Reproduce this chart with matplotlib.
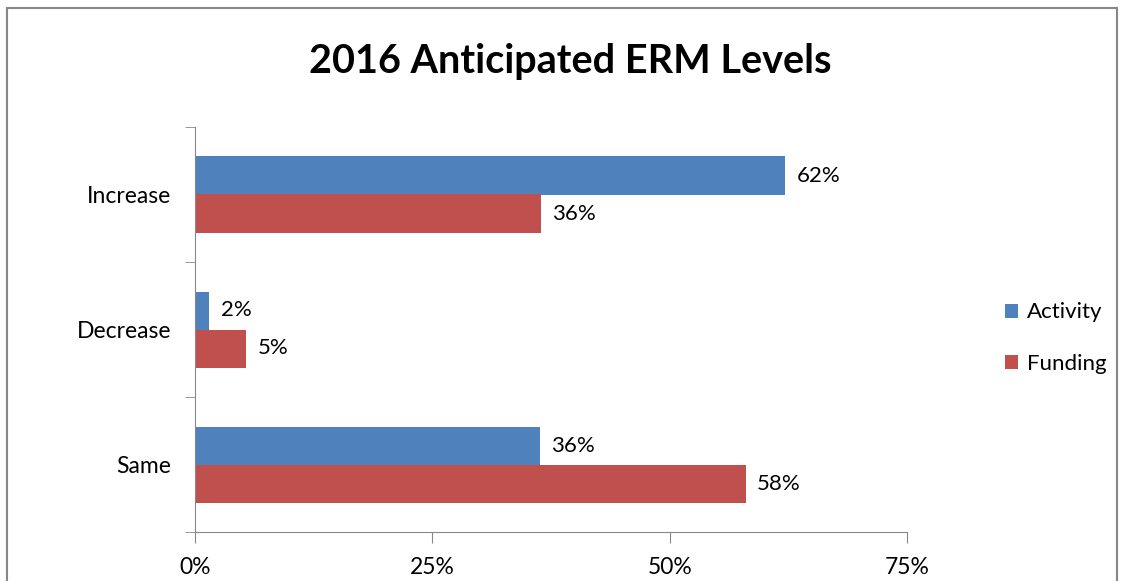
import matplotlib.pyplot as plt
from matplotlib.patches import Rectangle
import numpy as np

# data
categories = ["Increase", "Decrease", "Same"]
activity = [62.2, 1.5, 36.3]
funding = [36.4, 5.4, 58.0]
activity_labels = ["62%", "2%", "36%"]
funding_labels = ["36%", "5%", "58%"]
x_ticks = [0, 25, 50, 75]
x_tick_labels = ["0%", "25%", "50%", "75%"]

BLUE = "#4F81BD"
RED = "#C0504D"
GRAY = "#878787"

plt.rcParams["font.family"] = ["Lato", "DejaVu Sans"]

fig = plt.figure(figsize=(11.22, 5.81), dpi=100)
ax = fig.add_axes([195 / 1122, 1 - 532 / 581, 712 / 1122, 405 / 581])

# outer chart border
fig.patches.append(Rectangle((7 / 1122, -0.05), 1110 / 1122, 1.05 - 8 / 581,
                             transform=fig.transFigure, fill=False,
                             edgecolor=GRAY, linewidth=1.5))

y = np.arange(len(categories))[::-1].astype(float)
h = 38 / 135

ax.barh(y + h / 2, activity, height=h, color=BLUE, label="Activity")
ax.barh(y - h / 2, funding, height=h, color=RED, label="Funding")

for yi, v, lab in zip(y, activity, activity_labels):
    ax.text(v + 1.2, yi + h / 2, lab, va="center", ha="left", fontsize=16)
for yi, v, lab in zip(y, funding, funding_labels):
    ax.text(v + 1.2, yi - h / 2, lab, va="center", ha="left", fontsize=16)

ax.set_xlim(0, 75)
ax.set_ylim(-0.5, 2.5)
ax.set_xticks(x_ticks)
ax.set_xticklabels(x_tick_labels, fontsize=16.5)
ax.set_yticks(y)
ax.set_yticklabels(categories, fontsize=16.5)
ax.set_yticks([-0.5, 0.5, 1.5, 2.5], minor=True)

ax.tick_params(axis="y", which="major", length=0, pad=17)
ax.tick_params(axis="y", which="minor", length=7, color=GRAY)
ax.tick_params(axis="x", length=8, color=GRAY, pad=10)

for side in ["top", "right"]:
    ax.spines[side].set_visible(False)
for side in ["left", "bottom"]:
    ax.spines[side].set_color(GRAY)

fig.text(570 / 1122, 1 - 61 / 581, "2016 Anticipated ERM Levels",
         ha="center", va="center", fontsize=28.5, fontweight="bold")

fig.legend(loc="center left", bbox_to_anchor=(985 / 1122, 1 - 338 / 581),
           frameon=False, fontsize=16, handlelength=0.6, handleheight=0.6,
           handletextpad=0.4, labelspacing=1.4)

fig.savefig("out.png", dpi=100)
